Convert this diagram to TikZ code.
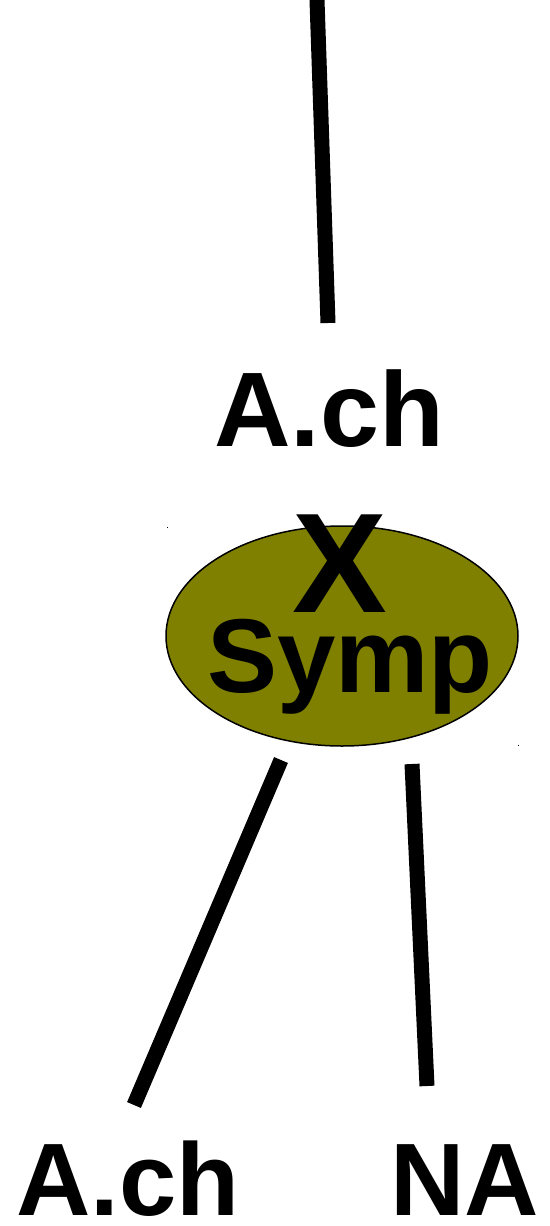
\documentclass[tikz,border=0pt]{standalone}
\usepackage{fontspec}
\setmainfont{Liberation Sans}
\usetikzlibrary{shapes.geometric}
\definecolor{olivefill}{RGB}{128,128,0}
\begin{document}
\begin{tikzpicture}[x=1pt,y=-1pt,
  lbl/.style={anchor=base,inner sep=0pt,font=\fontsize{106}{110}\selectfont\bfseries},
  edge/.style={line width=15pt},
  dot/.style={fill=black,inner sep=0pt,minimum size=1pt}]
\useasboundingbox (0,0) rectangle (549,1226);
\fill[olivefill,draw=black,line width=1.5pt] (342,636) ellipse [x radius=176, y radius=110];
\node[lbl] (top) at (329,446) {A.ch};
\node[lbl,font=\fontsize{142}{142}\selectfont\bfseries] (x) at (340,612) {X};
\node[lbl,font=\fontsize{105}{110}\selectfont\bfseries] (symp) at (350,692) {Symp};
\node[lbl,font=\fontsize{103}{110}\selectfont\bfseries] (ach) at (128,1215) {A.ch};
\node[lbl,font=\fontsize{103}{110}\selectfont\bfseries] (na) at (465,1215) {NA};
\coordinate (t0) at (317,0);
\coordinate (t1) at (328,323);
\coordinate (l0) at (281,760);
\coordinate (l1) at (134,1105);
\coordinate (r0) at (412,764);
\coordinate (r1) at (427,1086);
\draw[edge] (t0) -- (t1);
\draw[edge] (l0) -- (l1);
\draw[edge] (r0) -- (r1);
\node[dot] (d1) at (167,527) {};
\node[dot] (d2) at (518,745) {};
\end{tikzpicture}
\end{document}
